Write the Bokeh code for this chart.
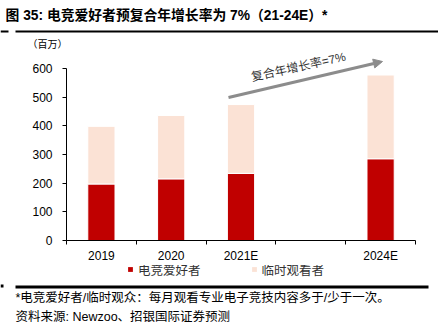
from bokeh.plotting import figure
from bokeh.layouts import column, row
from bokeh.models import (FactorRange, Range1d, LinearAxis, FixedTicker, Label, Arrow,
                          NormalHead, BoxAnnotation, Legend, LegendItem)
from bokeh.embed import file_html
from bokeh.resources import INLINE

# ---------------- data ----------------
slots = ["2019", "2020", "2021E", " ", "2024E"]
years = ["2019", "2020", "2021E", "2024E"]
enthusiasts = [197, 215, 234, 285]
casual = [201, 221, 240, 292]
y_ticks = [0, 100, 200, 300, 400, 500, 600]
series_names = ["电竞爱好者", "临时观看者"]
colors = ["#C00000", "#FBE2D5"]
title_text = "图 35: 电竞爱好者预复合年增长率为 7%（21-24E）*"
unit_text = "（百万）"
cagr_text = "复合年增长率=7%"
note_text = "*电竞爱好者/临时观众：每月观看专业电子竞技内容多于/少于一次。"
source_text = "资料来源: Newzoo、招银国际证券预测"

CJK = "'Liberation Sans', 'Noto Sans CJK SC'"
W = 438
TOP_H = 51
MAIN_H = 214
BOT_H = 326 - TOP_H - MAIN_H


def blank_fig(h):
    f = figure(width=W, height=h, x_range=Range1d(0, W), y_range=Range1d(h, 0),
               output_backend="svg", toolbar_location=None, title=None,
               x_axis_location=None, y_axis_location=None,
               min_border=0, min_border_left=0, min_border_right=0,
               min_border_top=0, min_border_bottom=0)
    f.outline_line_color = None
    f.grid.visible = False
    return f


def hline(f, x0, x1, y0, y1):
    f.add_layout(BoxAnnotation(left=x0, right=x1, top=y0, bottom=y1,
                               fill_color="black", fill_alpha=1, line_color=None))


# ---------------- top: title ----------------
top = blank_fig(TOP_H)
top.add_layout(Label(x=5, y=15, text=title_text, text_font=CJK, text_font_size="13.8px",
                     text_font_style="bold", text_color="black", text_baseline="middle"))
hline(top, 0, 8, 30, 32)
hline(top, 15, W, 30, 32)
top.add_layout(Label(x=27, y=44, text=unit_text, text_font=CJK, text_font_size="10px",
                     text_color="black", text_baseline="middle"))

# ---------------- main chart ----------------
y_top = 600 * (241 - TOP_H) / 173.0
p = figure(width=W, height=MAIN_H, x_range=FactorRange(factors=slots, range_padding=0),
           y_range=Range1d(0, y_top), output_backend="svg", toolbar_location=None,
           x_axis_location=None, title=None,
           min_border_left=66, min_border_right=23, min_border_top=0,
           min_border_bottom=MAIN_H - (241 - TOP_H))
p.outline_line_color = None
p.grid.visible = False

data = dict(x=years, enthusiasts=enthusiasts, casual=casual)
rs = p.vbar_stack(["enthusiasts", "casual"], x="x", width=0.39, source=data,
                  fill_color=colors, line_color="white", line_width=1)

ya = p.yaxis[0]
ya.bounds = (y_ticks[0], y_ticks[-1])
ya.ticker = FixedTicker(ticks=y_ticks, minor_ticks=[])
ya.axis_line_color = "black"
ya.major_tick_line_color = "black"
ya.major_tick_in = 0
ya.major_tick_out = 4
ya.minor_tick_line_color = None
ya.major_label_standoff = 10
ya.major_label_text_font = "Liberation Sans"
ya.major_label_text_font_size = "12px"
ya.major_label_text_color = "black"

centers = [slots.index(y) + 0.5 for y in years]
bounds = list(range(len(slots) + 1))
xa = LinearAxis(ticker=FixedTicker(ticks=centers, minor_ticks=bounds),
                major_label_overrides={c: y for c, y in zip(centers, years)})
xa.axis_line_color = "black"
xa.major_tick_line_color = None
xa.major_tick_in = 0
xa.major_tick_out = 0
xa.minor_tick_line_color = "black"
xa.minor_tick_in = 0
xa.minor_tick_out = 4
xa.major_label_standoff = 4
xa.major_label_text_font = "Liberation Sans"
xa.major_label_text_font_size = "12px"
xa.major_label_text_color = "black"
p.add_layout(xa, "below")

p.add_layout(Arrow(x_start=162, y_start=143, x_end=316, y_end=179,
                   start_units="screen", end_units="screen",
                   line_color="#8C8C8C", line_width=3,
                   end=NormalHead(size=9, fill_color="#8C8C8C", line_color="#8C8C8C")))
p.add_layout(Label(x=232, y=173.5, x_units="screen", y_units="screen", text=cagr_text,
                   angle=0.218, text_align="center", text_baseline="middle",
                   text_font=CJK, text_font_size="12px", text_color="#333333"))

# ---------------- bottom: legend + notes ----------------
off = TOP_H + MAIN_H  # canvas y of the bottom figure's top edge
bot = blank_fig(BOT_H)
# zero-size swatch renderers that only feed the legend
swatches = [bot.vbar(x=[0], top=[0], bottom=[0], width=0, fill_color=c, line_color=None)
            for c in colors]
legend = Legend(items=[LegendItem(label=series_names[i], renderers=[swatches[i]]) for i in range(2)],
                orientation="horizontal", location=(127, BOT_H - (272 - off) - 6.5),
                glyph_width=6, glyph_height=6, label_height=13, label_standoff=5,
                spacing=50, padding=0, margin=0,
                label_text_font=CJK, label_text_font_size="12.5px", label_text_color="#333333",
                border_line_color=None, background_fill_alpha=0)
bot.add_layout(legend)
hline(bot, 0, 3, 284 - off, 287 - off)
hline(bot, 15, 428, 285 - off, 288 - off)
bot.add_layout(Label(x=15, y=297 - off, text=note_text, text_font=CJK, text_font_size="12.5px",
                     text_color="black", text_baseline="middle"))
bot.add_layout(Label(x=15, y=316 - off, text=source_text, text_font=CJK, text_font_size="12.5px",
                     text_color="black", text_baseline="middle"))

layout = column(top, row(p), bot, spacing=0)
open("out.html", "w").write(file_html(layout, INLINE))
